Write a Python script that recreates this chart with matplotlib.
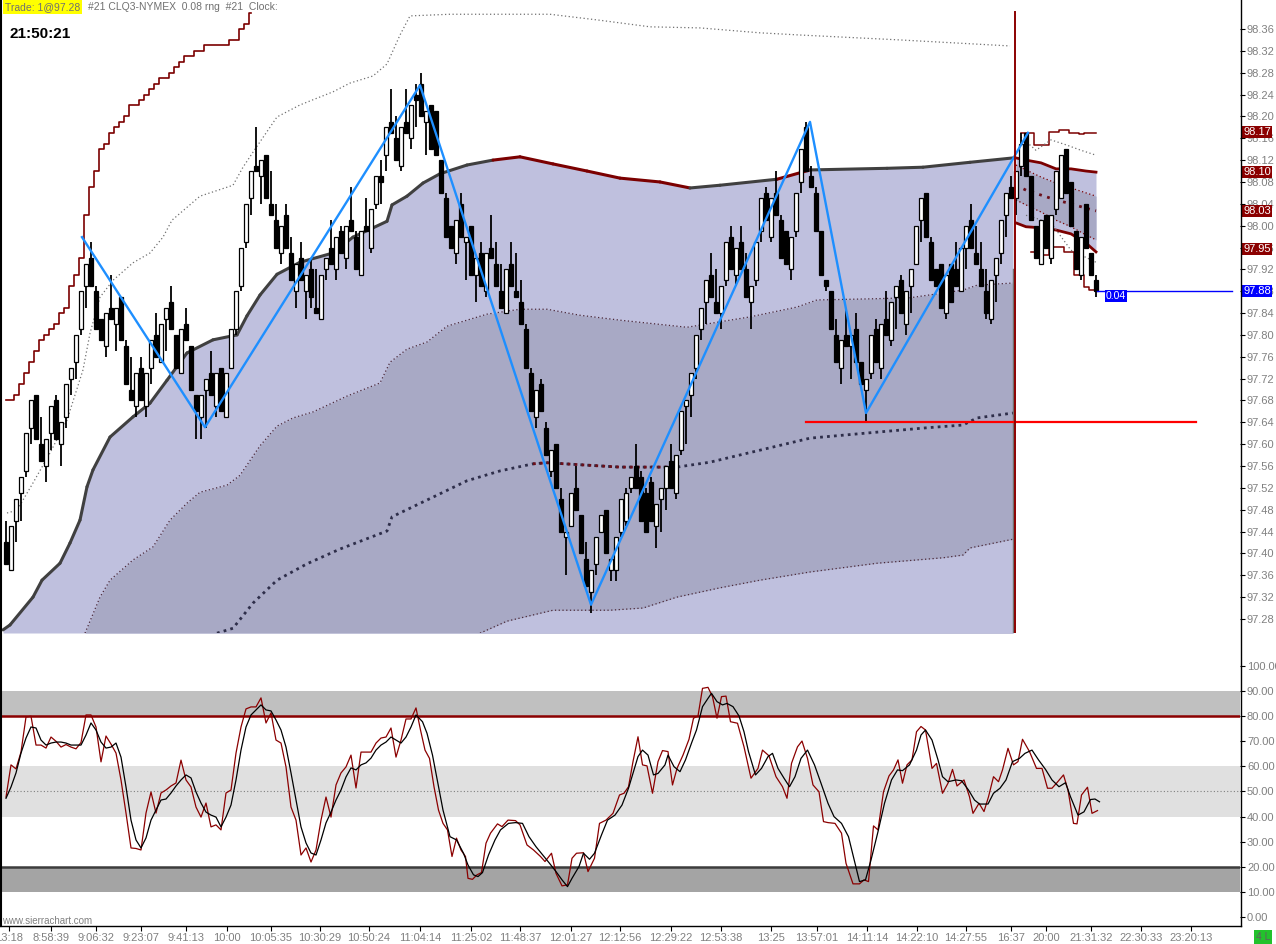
import matplotlib
matplotlib.use("Agg")
import matplotlib.pyplot as plt
import matplotlib.transforms as mtransforms
from matplotlib.lines import Line2D
from matplotlib.collections import LineCollection
import numpy as np

plt.rcParams['font.family'] = ['Liberation Sans', 'DejaVu Sans']

# ---------------- DATA ----------------
OPEN = [97.42, 97.37, 97.46, 97.51, 97.55, 97.63, 97.69, 97.60, 97.56, 97.62,
        97.68, 97.60, 97.65, 97.72, 97.75, 97.81, 97.89, 97.94, 97.88, 97.83,
        97.78, 97.85, 97.82, 97.87, 97.78, 97.70, 97.67, 97.74, 97.67, 97.74,
        97.80, 97.75, 97.83, 97.86, 97.80, 97.73, 97.82, 97.78, 97.69, 97.65,
        97.70, 97.73, 97.67, 97.74, 97.65, 97.74, 97.81, 97.89, 97.97, 98.05,
        98.11, 98.09, 98.13, 98.04, 98.01, 97.95, 98.02, 97.95, 97.88, 97.94,
        97.88, 97.92, 97.85, 97.83, 97.92, 97.96, 97.92, 97.99, 97.94, 98.01,
        97.98, 97.91, 98.00, 97.96, 98.04, 98.09, 98.13, 98.19, 98.16, 98.11,
        98.19, 98.16, 98.24, 98.26, 98.19, 98.22, 98.21, 98.12, 98.05, 98.00,
        97.95, 98.04, 97.97, 98.00, 97.91, 97.95, 97.88, 97.96, 97.93, 97.88,
        97.84, 97.93, 97.88, 97.86, 97.81, 97.73, 97.65, 97.71, 97.63, 97.55,
        97.60, 97.50, 97.43, 97.45, 97.52, 97.47, 97.39, 97.33, 97.38, 97.44,
        97.48, 97.37, 97.37, 97.44, 97.46, 97.52, 97.56, 97.54, 97.51, 97.53,
        97.45, 97.50, 97.52, 97.57, 97.51, 97.59, 97.67, 97.69, 97.74, 97.81,
        97.86, 97.91, 97.86, 97.84, 97.90, 97.98, 97.91, 97.97, 97.92, 97.86,
        97.90, 97.99, 98.06, 97.98, 98.06, 98.01, 97.99, 97.92, 97.99, 98.08,
        98.18, 98.09, 98.06, 97.99, 97.90, 97.88, 97.80, 97.74, 97.80, 97.78,
        97.81, 97.75, 97.70, 97.73, 97.81, 97.74, 97.83, 97.79, 97.87, 97.90,
        97.82, 97.89, 97.93, 98.01, 98.06, 97.97, 97.92, 97.93, 97.84, 97.93,
        97.92, 97.88, 97.96, 98.01, 97.95, 97.92, 97.88, 97.83, 97.91, 97.95,
        98.02, 98.07, 98.05, 98.11, 98.17, 98.09, 98.00, 97.93, 98.02, 97.94,
        98.03, 98.05, 98.14, 98.08, 97.99, 97.91, 98.04, 97.95, 97.90]
HIGH = [97.46, 97.45, 97.50, 97.54, 97.62, 97.68, 97.69, 97.65, 97.61, 97.67,
        97.69, 97.64, 97.71, 97.74, 97.80, 97.88, 97.93, 97.97, 97.89, 97.83,
        97.84, 97.91, 97.85, 97.87, 97.79, 97.76, 97.73, 97.76, 97.73, 97.79,
        97.84, 97.82, 97.85, 97.89, 97.80, 97.81, 97.85, 97.78, 97.69, 97.69,
        97.72, 97.77, 97.73, 97.74, 97.73, 97.81, 97.88, 97.96, 98.04, 98.10,
        98.18, 98.12, 98.13, 98.10, 98.04, 98.00, 98.04, 97.98, 97.93, 97.97,
        97.91, 97.94, 97.92, 97.91, 97.94, 98.01, 97.98, 98.00, 98.00, 98.07,
        97.99, 97.99, 98.05, 98.03, 98.09, 98.12, 98.18, 98.25, 98.20, 98.18,
        98.25, 98.22, 98.26, 98.28, 98.21, 98.22, 98.21, 98.12, 98.06, 98.00,
        98.01, 98.06, 97.98, 98.00, 97.94, 97.97, 97.95, 98.02, 97.97, 97.93,
        97.92, 97.97, 97.95, 97.90, 97.82, 97.74, 97.70, 97.72, 97.64, 97.59,
        97.60, 97.52, 97.44, 97.51, 97.56, 97.47, 97.42, 97.37, 97.43, 97.47,
        97.48, 97.39, 97.43, 97.50, 97.52, 97.54, 97.60, 97.55, 97.52, 97.54,
        97.49, 97.52, 97.56, 97.60, 97.58, 97.66, 97.68, 97.73, 97.80, 97.85,
        97.90, 97.95, 97.92, 97.89, 97.97, 98.00, 97.96, 98.00, 97.95, 97.89,
        97.97, 98.05, 98.07, 98.05, 98.10, 98.02, 97.99, 97.98, 98.06, 98.14,
        98.19, 98.11, 98.07, 97.99, 97.90, 97.88, 97.83, 97.79, 97.85, 97.80,
        97.84, 97.75, 97.72, 97.80, 97.83, 97.82, 97.88, 97.86, 97.89, 97.91,
        97.88, 97.92, 98.00, 98.05, 98.06, 97.98, 97.92, 97.93, 97.91, 97.93,
        97.97, 97.96, 98.00, 98.04, 98.00, 97.97, 97.92, 97.90, 97.94, 98.01,
        98.06, 98.09, 98.10, 98.17, 98.17, 98.09, 98.00, 98.01, 98.02, 98.02,
        98.10, 98.13, 98.14, 98.08, 97.99, 97.98, 98.04, 97.95, 97.91]
LOW = [97.38, 97.37, 97.42, 97.46, 97.54, 97.60, 97.61, 97.57, 97.53, 97.59,
       97.61, 97.56, 97.63, 97.69, 97.72, 97.80, 97.85, 97.89, 97.81, 97.79,
       97.76, 97.83, 97.77, 97.79, 97.71, 97.68, 97.65, 97.68, 97.65, 97.71,
       97.76, 97.75, 97.77, 97.81, 97.74, 97.73, 97.79, 97.70, 97.61, 97.61,
       97.63, 97.69, 97.65, 97.66, 97.65, 97.74, 97.80, 97.88, 97.96, 98.02,
       98.10, 98.04, 98.05, 98.02, 97.96, 97.93, 97.96, 97.90, 97.85, 97.90,
       97.83, 97.85, 97.84, 97.83, 97.90, 97.93, 97.90, 97.95, 97.92, 97.99,
       97.92, 97.91, 97.99, 97.95, 98.03, 98.04, 98.10, 98.17, 98.12, 98.10,
       98.17, 98.14, 98.18, 98.20, 98.13, 98.14, 98.13, 98.06, 97.98, 97.96,
       97.93, 97.98, 97.90, 97.91, 97.86, 97.89, 97.87, 97.94, 97.89, 97.85,
       97.84, 97.89, 97.87, 97.82, 97.74, 97.66, 97.63, 97.66, 97.58, 97.54,
       97.52, 97.44, 97.36, 97.45, 97.48, 97.40, 97.34, 97.29, 97.36, 97.44,
       97.40, 97.35, 97.35, 97.43, 97.45, 97.51, 97.52, 97.46, 97.44, 97.46,
       97.41, 97.44, 97.48, 97.52, 97.50, 97.58, 97.60, 97.65, 97.72, 97.79,
       97.82, 97.87, 97.84, 97.81, 97.89, 97.92, 97.89, 97.92, 97.87, 97.81,
       97.89, 97.97, 98.01, 97.97, 98.02, 97.94, 97.93, 97.90, 97.98, 98.06,
       98.10, 98.07, 97.99, 97.91, 97.88, 97.81, 97.75, 97.71, 97.78, 97.72,
       97.75, 97.71, 97.64, 97.72, 97.75, 97.72, 97.80, 97.78, 97.81, 97.84,
       97.80, 97.84, 97.93, 97.97, 97.98, 97.90, 97.89, 97.85, 97.83, 97.86,
       97.89, 97.88, 97.92, 97.96, 97.93, 97.89, 97.83, 97.82, 97.86, 97.93,
       97.98, 98.05, 98.02, 98.09, 98.09, 98.01, 97.94, 97.93, 97.96, 97.93,
       98.02, 98.05, 98.06, 98.00, 97.92, 97.90, 97.96, 97.91, 97.87]
CLOSE = [97.38, 97.45, 97.50, 97.54, 97.62, 97.68, 97.61, 97.57, 97.61, 97.67,
         97.61, 97.64, 97.71, 97.74, 97.80, 97.88, 97.93, 97.89, 97.81, 97.79,
         97.84, 97.83, 97.85, 97.79, 97.71, 97.68, 97.73, 97.68, 97.73, 97.79,
         97.76, 97.82, 97.85, 97.81, 97.74, 97.81, 97.79, 97.70, 97.66, 97.69,
         97.72, 97.69, 97.73, 97.66, 97.73, 97.81, 97.88, 97.96, 98.04, 98.10,
         98.10, 98.12, 98.05, 98.02, 97.96, 98.00, 97.96, 97.90, 97.93, 97.90,
         97.91, 97.87, 97.84, 97.91, 97.94, 97.93, 97.98, 97.95, 98.00, 97.99,
         97.92, 97.99, 97.99, 98.03, 98.09, 98.08, 98.18, 98.17, 98.12, 98.18,
         98.17, 98.22, 98.23, 98.20, 98.21, 98.14, 98.13, 98.06, 97.98, 97.96,
         98.01, 97.98, 97.98, 97.91, 97.94, 97.89, 97.95, 97.94, 97.89, 97.85,
         97.92, 97.89, 97.87, 97.82, 97.74, 97.66, 97.70, 97.66, 97.58, 97.59,
         97.52, 97.44, 97.44, 97.51, 97.48, 97.40, 97.34, 97.37, 97.43, 97.47,
         97.40, 97.39, 97.43, 97.50, 97.51, 97.54, 97.52, 97.46, 97.44, 97.46,
         97.49, 97.52, 97.56, 97.52, 97.58, 97.66, 97.68, 97.73, 97.80, 97.85,
         97.90, 97.87, 97.84, 97.89, 97.97, 97.92, 97.96, 97.92, 97.87, 97.89,
         97.97, 98.05, 98.01, 98.05, 98.02, 97.94, 97.93, 97.98, 98.06, 98.14,
         98.10, 98.07, 97.99, 97.91, 97.89, 97.81, 97.75, 97.79, 97.78, 97.80,
         97.75, 97.71, 97.72, 97.80, 97.75, 97.82, 97.80, 97.86, 97.89, 97.84,
         97.88, 97.92, 98.00, 98.05, 97.98, 97.90, 97.89, 97.85, 97.91, 97.86,
         97.89, 97.96, 98.00, 97.96, 97.93, 97.89, 97.84, 97.90, 97.94, 98.01,
         98.06, 98.05, 98.10, 98.15, 98.09, 98.01, 97.94, 98.01, 97.96, 98.02,
         98.10, 98.13, 98.06, 98.00, 97.92, 97.98, 97.96, 97.91, 97.88]

# Band lines (bar position, price)
UB_X = [-0.6, 0.8, 5.4, 7.2, 10.8, 12.8, 14.8, 16.2, 17.4, 20.8, 25.4, 28.8, 32.2, 36.2,
        41.4, 46.2, 48.2, 50.8, 54.2, 58.8, 65.4, 69.4, 73.4, 76.2, 77.2, 80.2, 83.4,
        86.8, 92.2, 97.4, 102.8, 109.4, 116.2, 122.8, 130.8, 136.8, 142.8, 154.2,
        160.8, 176.2, 183.4, 192.8, 201.4]
UB_Y = [97.260, 97.269, 97.320, 97.351, 97.382, 97.419, 97.461, 97.522, 97.553, 97.613,
        97.650, 97.675, 97.717, 97.767, 97.791, 97.800, 97.835, 97.873, 97.911, 97.933,
        97.950, 97.979, 97.996, 98.008, 98.038, 98.054, 98.078, 98.095, 98.111, 98.120,
        98.126, 98.113, 98.100, 98.087, 98.080, 98.069, 98.074, 98.085, 98.102, 98.105,
        98.107, 98.116, 98.124]
UB_RED_RANGES = [(100.0, 137.0), (155.0, 161.0)]

IU_X = [15.8, 18.8, 20.8, 25.4, 29.4, 32.8, 36.2, 38.8, 44.2, 46.8, 50.8, 54.2, 57.4,
        61.4, 68.2, 74.8, 76.8, 80.2, 84.2, 88.2, 96.2, 102.8, 108.2, 114.8, 122.8,
        136.2, 142.8, 148.8, 158.2, 162.2, 172.8, 180.8, 191.4, 194.2, 201.4]
IU_Y = [97.254, 97.320, 97.351, 97.388, 97.412, 97.461, 97.492, 97.512, 97.525, 97.543,
        97.597, 97.633, 97.648, 97.659, 97.688, 97.712, 97.750, 97.774, 97.787, 97.816,
        97.838, 97.847, 97.847, 97.836, 97.827, 97.814, 97.824, 97.833, 97.851, 97.864,
        97.866, 97.868, 97.882, 97.891, 97.895]

VWAP_X = [42.2, 45.4, 49.4, 54.2, 60.2, 66.8, 76.2, 77.2, 85.4, 92.2, 98.8, 105.4, 108.2,
          115.4, 122.8, 134.2, 140.8, 150.8, 160.8, 174.2, 184.2, 191.4, 194.2, 201.4]
VWAP_Y = [97.254, 97.263, 97.309, 97.351, 97.381, 97.408, 97.441, 97.467, 97.503, 97.533,
          97.551, 97.564, 97.566, 97.562, 97.558, 97.558, 97.567, 97.589, 97.611, 97.622,
          97.630, 97.635, 97.648, 97.657]
VWAP_RED_RANGE = (105.0, 134.5)

LD_X = [94.8, 100.2, 109.4, 120.8, 127.4, 134.2, 142.8, 150.8, 160.8, 174.2, 187.4,
        191.4, 192.8, 201.4]
LD_Y = [97.254, 97.276, 97.296, 97.296, 97.300, 97.320, 97.337, 97.351, 97.366, 97.382,
        97.392, 97.397, 97.410, 97.426]

ENV_X = [0.2, 2.2, 5.4, 8.8, 12.2, 15.4, 16.8, 18.8, 21.4, 25.4, 28.8, 31.4, 33.2, 38.8,
         45.4, 47.4, 49.8, 54.2, 58.8, 65.4, 68.8, 73.4, 76.2, 78.8, 80.8, 88.8, 108.8,
         118.8, 128.8, 138.8, 150.8, 158.8, 178.8, 200.8]
ENV_Y = [97.474, 97.479, 97.529, 97.584, 97.644, 97.736, 97.803, 97.869, 97.900, 97.932,
         97.950, 97.979, 98.010, 98.054, 98.074, 98.107, 98.140, 98.199, 98.221, 98.245,
         98.261, 98.274, 98.296, 98.349, 98.384, 98.387, 98.387, 98.376, 98.364, 98.362,
         98.353, 98.349, 98.340, 98.329]

STEP_HIGH = [97.68, 97.68, 97.69, 97.71, 97.73, 97.75, 97.77, 97.79, 97.80, 97.81,
             97.82, 97.84, 97.85, 97.89, 97.91, 97.94, 98.02, 98.07, 98.10, 98.14,
             98.15, 98.17, 98.18, 98.19, 98.20, 98.22, 98.22, 98.23, 98.24, 98.25,
             98.26, 98.27, 98.27, 98.28, 98.29, 98.30, 98.31, 98.31, 98.32, 98.32,
             98.33, 98.33, 98.33, 98.33, 98.33, 98.34, 98.34, 98.36, 98.37, 98.39]

# New session (after the vertical line)
POST_X = [202, 204, 207, 210, 213, 216, 218]
POST_UPPER = [98.124, 98.120, 98.115, 98.104, 98.104, 98.100, 98.098]
POST_UPPER_DOT = [98.111, 98.102, 98.089, 98.078, 98.069, 98.060, 98.054]
POST_VWAP = [98.074, 98.065, 98.056, 98.047, 98.040, 98.032, 98.027]
POST_LOWER_DOT = [98.047, 98.038, 98.025, 98.010, 97.998, 97.983, 97.974]
POST_LOWER = [98.005, 97.998, 97.996, 97.992, 97.985, 97.968, 97.952]
POST_TOP_STEP_X = list(range(203, 219))
POST_TOP_STEP = [98.170, 98.170, 98.170, 98.148, 98.148, 98.148, 98.171, 98.171,
                 98.175, 98.175, 98.170, 98.170, 98.168, 98.170, 98.170, 98.170]
POST_BOT_STEP_X = list(range(205, 219))
POST_BOT_STEP = [97.952, 97.952, 97.946, 97.946, 97.961, 97.961, 97.961, 97.952,
                 97.952, 97.910, 97.910, 97.888, 97.882, 97.882]
POST_ENV_UP_X = [203, 206, 209, 212, 215, 218]
POST_ENV_UP = [98.162, 98.138, 98.157, 98.148, 98.138, 98.129]
POST_ENV_LO_X = [204, 209, 213, 218]
POST_ENV_LO = [98.019, 98.005, 97.955, 97.933]

ZZ_X = [15.2, 39.8, 82.8, 117.0, 160.8, 172.0, 204.4]
ZZ_Y = [97.979, 97.631, 98.257, 97.306, 98.190, 97.657, 98.170]

SUPPORT_X = [160.0, 238.0]
SUPPORT_PRICE = 97.641
SESSION_BREAK_X = 201.8
LAST_PRICE = 97.88
LAST_LINE_X = [218.2, 245.2]

PRICE_TICKS = [97.28, 97.32, 97.36, 97.40, 97.44, 97.48, 97.52, 97.56, 97.60, 97.64,
               97.68, 97.72, 97.76, 97.80, 97.84, 97.88, 97.92, 97.96, 98.00, 98.04,
               98.08, 98.12, 98.16, 98.20, 98.24, 98.28, 98.32, 98.36]
PRICE_TICK_LABELS = ["97.28", "97.32", "97.36", "97.40", "97.44", "97.48", "97.52",
                     "97.56", "97.60", "97.64", "97.68", "97.72", "97.76", "97.80",
                     "97.84", "97.88", "97.92", "97.96", "98.00", "98.04", "98.08",
                     "98.12", "98.16", "98.20", "98.24", "98.28", "98.32", "98.36"]
MARKER_VALUES = [98.171, 98.098, 98.027, 97.957, 97.880]
MARKER_TEXTS = ["98.17", "98.10", "98.03", "97.95", "97.88"]
MARKER_COLORS = ["#8B0000", "#8B0000", "#8B0000", "#8B0000", "#0000FF"]

# Stochastic %K (red) and %D (black)
K_X = list(range(83)) + [
    82.9, 83.8, 84.7, 85.6, 86.5, 87.4, 88.3, 89.2, 90.1, 91.0, 91.9, 92.4, 93.3, 94.2,
    95.1, 96.0, 96.9, 98.3, 99.2, 100.4, 101.9, 102.8, 104.2, 105.5, 106.9, 107.8, 109.1,
    110.0, 111.2, 112.3, 113.2, 114.1, 115.5, 116.4, 117.7, 118.7, 120.0, 121.4, 122.7,
    123.6, 124.5, 125.4, 126.4, 127.3, 128.2, 129.3, 130.4, 131.3, 132.4, 133.3, 134.2,
    135.4, 136.6, 137.5, 138.4, 139.3, 140.4, 141.3, 142.2, 143.1, 144.0, 144.9, 146.3,
    147.6, 149.0, 150.4, 151.3, 152.6, 154.0, 155.3, 156.2, 157.1, 158.3, 159.2, 160.3,
    161.4, 162.6, 163.5, 164.4, 165.8, 167.1, 168.0, 169.4, 170.7, 171.6, 172.5, 173.5,
    174.4, 175.5, 176.6, 177.5, 178.4, 179.3, 180.2, 181.2, 182.1, 183.0, 183.9, 185.2,
    186.1, 187.3, 188.4, 189.3, 190.2, 191.6, 192.7, 193.4, 194.6, 195.6, 196.5, 197.5,
    198.5, 199.3, 200.4, 201.5, 202.4, 203.3, 204.7, 206.1, 207.2, 208.3, 209.2, 210.1,
    211.5, 212.4, 213.5, 214.2, 215.1, 216.3, 217.2, 218.3]
K_V = [47.8, 60.6, 59.0, 65.7, 79.7, 80.0, 68.5, 68.5, 67.3, 71.7,
       70.0, 67.7, 68.7, 67.7, 67.0, 69.5, 80.5, 80.5, 75.7, 61.8,
       72.1, 68.9, 65.3, 54.6, 41.4, 27.5, 27.3, 26.7, 41.4, 49.8,
       41.4, 49.4, 50.6, 52.2, 53.4, 62.5, 54.6, 51.8, 43.8, 39.8,
       45.4, 35.9, 36.7, 34.7, 49.4, 50.6, 65.3, 75.7, 82.9, 83.7,
       83.7, 87.3, 77.3, 81.3, 70.5, 69.3, 59.8, 43.8, 38.6, 24.7,
       27.5, 21.9, 26.7, 38.6, 47.8, 39.8, 52.6, 57.4, 59.8, 64.5,
       51.4, 65.7, 65.7, 65.7, 69.3, 71.3, 71.7, 75.3, 63.7, 70.5,
       78.9, 78.9, 83.3,
       74.5, 66.5, 63.2, 51.9, 42.6, 37.3, 34.7, 24.1, 31.4, 26.7, 24.1, 15.4, 15.0, 16.8,
       17.7, 29.4, 33.4, 37.1, 36.0, 38.6, 38.4, 36.7, 28.7, 26.7, 24.1, 22.1, 25.4,
       17.4, 12.4, 12.8, 23.4, 25.4, 25.6, 18.1, 23.4, 37.3, 38.6, 41.3, 48.6,
       49.3, 51.9, 61.9, 71.8, 60.6, 60.2, 49.3, 61.9, 66.3, 65.9, 52.6, 59.2,
       64.5, 70.8, 79.2, 80.1, 91.1, 91.5, 87.8, 79.2, 87.8, 88.0, 77.8, 77.2,
       67.8, 55.3, 59.2, 66.5, 64.2, 55.9, 51.9, 47.3, 61.2, 67.8, 70.1, 63.2,
       52.6, 49.9, 38.0, 37.6, 37.3, 33.4, 21.4, 13.2, 13.2, 14.8, 14.1, 36.3,
       34.7, 49.9, 56.2, 58.6, 62.6, 53.3, 60.6, 62.6, 73.8, 75.9, 74.5, 59.2,
       61.2, 49.3, 53.3, 58.8, 52.2, 54.6, 47.9, 41.3, 45.3, 42.0, 47.9, 55.9,
       53.9, 58.6, 67.2, 60.6, 61.9, 70.8, 65.9, 59.2, 59.2, 51.3, 51.3, 53.3,
       56.6, 50.6, 37.3, 37.1, 48.6, 51.7, 41.3, 42.4]
D_X = list(range(83)) + [
    83.3, 84.2, 85.3, 86.5, 87.4, 88.8, 90.1, 91.5, 92.4, 93.5, 94.4, 95.3, 96.5, 97.8,
    98.9, 100.5, 101.9, 103.3, 104.6, 106.0, 107.6, 108.7, 110.0, 111.2, 112.3, 113.2,
    114.6, 115.5, 116.7, 117.7, 119.1, 120.3, 121.8, 123.2, 124.5, 125.4, 126.4, 127.3,
    128.4, 129.5, 130.4, 131.8, 132.4, 133.6, 134.8, 135.9, 137.2, 138.1, 139.3, 140.4,
    141.1, 142.2, 143.3, 144.2, 145.4, 146.6, 147.6, 148.5, 149.9, 151.1, 152.4, 153.3,
    154.4, 155.6, 156.7, 157.8, 159.0, 160.3, 161.7, 163.0, 164.4, 165.6, 167.1, 168.5,
    169.8, 170.7, 171.9, 173.0, 174.4, 175.7, 177.1, 178.3, 179.3, 180.7, 182.1, 183.0,
    183.9, 185.2, 186.4, 187.3, 188.4, 190.0, 191.1, 192.5, 193.7, 194.7, 196.4, 197.5,
    198.8, 200.0, 201.3, 202.7, 203.8, 205.2, 206.5, 207.9, 209.2, 210.6, 211.9, 212.9,
    214.4, 215.6, 216.9, 217.8, 218.7]
D_V = [47.3, 51.8, 57.4, 65.3, 71.3, 75.7, 75.3, 70.5, 68.5, 69.3,
       69.7, 69.7, 69.3, 68.5, 68.5, 68.5, 72.5, 77.3, 74.5, 69.7,
       67.3, 67.7, 69.3, 63.7, 51.8, 38.6, 30.7, 27.5, 31.5, 38.6,
       42.6, 46.6, 47.0, 49.4, 52.2, 54.6, 56.6, 55.4, 49.8, 45.4,
       41.8, 40.6, 39.8, 35.9, 39.8, 44.6, 54.6, 66.5, 75.7, 80.5,
       82.5, 84.5, 82.5, 82.1, 78.5, 74.5, 67.7, 57.4, 46.6, 35.9,
       29.5, 25.5, 24.7, 30.7, 37.5, 41.8, 46.6, 50.6, 55.8, 59.4,
       58.6, 60.6, 61.4, 63.3, 66.5, 68.5, 69.7, 71.7, 70.5, 69.3,
       71.7, 75.7, 80.5,
       77.8, 73.2, 64.5, 51.9, 42.6, 32.0, 30.7, 25.4, 20.7, 16.8, 16.1, 17.7, 24.7, 30.7,
       34.7, 37.3, 37.6, 37.3, 32.0, 28.0, 24.1, 21.4, 18.1, 14.8, 12.1, 15.4,
       20.1, 25.4, 23.0, 25.4, 32.7, 38.6, 40.6, 44.6, 51.3, 57.2, 63.9, 66.5,
       64.5, 56.6, 57.2, 60.6, 64.5, 59.9, 57.9, 62.6, 69.8, 74.5, 83.8, 87.1,
       89.1, 85.8, 84.5, 85.1, 83.8, 80.1, 73.8, 65.9, 56.6, 59.2, 63.9, 65.2,
       59.2, 55.3, 51.9, 55.9, 63.2, 66.5, 60.6, 53.3, 45.3, 40.0, 37.3, 32.0,
       21.4, 14.1, 14.8, 22.7, 34.0, 45.3, 54.6, 58.6, 58.3, 60.6, 66.5, 72.5,
       74.5, 70.5, 62.6, 55.9, 53.9, 54.6, 54.3, 50.6, 46.6, 45.0, 45.0, 49.3,
       51.3, 54.6, 61.9, 63.2, 65.2, 66.5, 62.6, 58.8, 54.6, 51.9, 53.5, 47.9,
       40.6, 41.9, 46.8, 47.0, 45.9]

PCT_TICKS = [100, 90, 80, 70, 60, 50, 40, 30, 20, 10, 0]
PCT_LABELS = ["100.00", "90.00", "80.00", "70.00", "60.00", "50.00", "40.00",
              "30.00", "20.00", "10.00", "0.00"]

TIME_BARS = [0.6, 9, 18, 27, 36, 44.2, 53, 62.8, 72.6, 82.8, 93, 102.8, 113, 122.8,
             133, 143, 153, 162.2, 172.2, 182.2, 192, 201, 208, 217, 227, 237]
TIME_LABELS = ["13:18", "8:58:39", "9:06:32", "9:23:07", "9:41:13", "10:00", "10:05:35",
               "10:30:29", "10:50:24", "11:04:14", "11:25:02", "11:48:37", "12:01:27",
               "12:12:56", "12:29:22", "12:53:38", "13:25", "13:57:01", "14:11:14",
               "14:22:10", "14:27:55", "16:37", "20:00", "21:31:32", "22:30:33",
               "23:20:13"]

# ---------------- FIGURE ----------------
W, H = 1276, 944
fig = plt.figure(figsize=(W / 100, H / 100), dpi=100)
fig.patch.set_facecolor('white')


def fx(px):
    return px / W


def fy(py):
    return 1 - py / H


XLIM = (-1.2, 246.8)
YMIN, YMAX = 97.2543, 98.4131
GREY_TXT = '#808080'
LIGHT = '#BFC0DE'
DARK = '#A8A9C5'
DRED = '#7B0000'

ax = fig.add_axes([0, fy(633), 1240 / W, 633 / H])
ax.set_xlim(*XLIM)
ax.set_ylim(YMIN, YMAX)
ax.set_facecolor('none')
for s in ax.spines.values():
    s.set_visible(False)

# fills
ax.fill_between(UB_X, UB_Y, YMIN, color=LIGHT, lw=0, zorder=1)
ax.fill_between(IU_X, IU_Y, YMIN, color=DARK, lw=0, zorder=1.1)
ax.fill_between(LD_X, LD_Y, YMIN, color=LIGHT, lw=0, zorder=1.2)

# upper band line with colour segments
pts = np.column_stack([UB_X, UB_Y])
segs = np.stack([pts[:-1], pts[1:]], axis=1)
cols = []
for a, b in zip(UB_X[:-1], UB_X[1:]):
    m = 0.5 * (a + b)
    red = any(lo <= m <= hi for lo, hi in UB_RED_RANGES)
    cols.append(DRED if red else '#404040')
ax.add_collection(LineCollection(segs, colors=cols, linewidths=2.2, zorder=2,
                                 capstyle='round'))

ax.plot(IU_X, IU_Y, color='#4A2838', lw=0.9, ls=(0, (1, 2)), zorder=2)
ax.plot(LD_X, LD_Y, color='#4A2838', lw=0.9, ls=(0, (1, 2)), zorder=2)
ax.plot(ENV_X, ENV_Y, color='#707070', lw=0.9, ls=(0, (1, 2)), zorder=2)

vx = np.array(VWAP_X)
vy = np.array(VWAP_Y)
ax.plot(vx, vy, color='#2E2E4A', lw=2.0, ls=(0, (1, 1.5)), zorder=2)
mask = (vx >= VWAP_RED_RANGE[0]) & (vx <= VWAP_RED_RANGE[1])
ax.plot(vx[mask], vy[mask], color='#6B0F1A', lw=2.0, ls=(0, (1, 1.5)), zorder=2.1)

ax.plot(range(len(STEP_HIGH)), STEP_HIGH, color=DRED, lw=1.2, drawstyle='steps-mid', zorder=2)

# new-session bands
ax.fill_between(POST_X, POST_UPPER, POST_LOWER, color=LIGHT, lw=0, zorder=1)
ax.fill_between(POST_X, POST_UPPER_DOT, POST_LOWER_DOT, color=DARK, lw=0, zorder=1.1)
ax.plot(POST_X, POST_UPPER, color=DRED, lw=2.0, zorder=2)
ax.plot(POST_X, POST_LOWER, color=DRED, lw=2.0, zorder=2)
ax.plot(POST_X, POST_UPPER_DOT, color=DRED, lw=0.9, ls=(0, (1, 2)), zorder=2)
ax.plot(POST_X, POST_LOWER_DOT, color=DRED, lw=0.9, ls=(0, (1, 2)), zorder=2)
ax.plot(POST_X, POST_VWAP, color='#6B0F1A', lw=2.0, ls=(0, (1, 2)), zorder=2)
ax.plot(POST_TOP_STEP_X, POST_TOP_STEP, color=DRED, lw=1.1, drawstyle='steps-mid', zorder=2)
ax.plot(POST_BOT_STEP_X, POST_BOT_STEP, color=DRED, lw=1.1, drawstyle='steps-mid', zorder=2)
ax.plot(POST_ENV_UP_X, POST_ENV_UP, color='#707070', lw=0.9, ls=(0, (1, 2)), zorder=2)
ax.plot(POST_ENV_LO_X, POST_ENV_LO, color='#707070', lw=0.9, ls=(0, (1, 2)), zorder=2)

# candles
o = np.array(OPEN)
h = np.array(HIGH)
l = np.array(LOW)
c = np.array(CLOSE)
idx = np.arange(len(c))
ax.vlines(idx, l, h, color='black', lw=1.3, zorder=3)
bottom = np.minimum(o, c)
height = np.maximum(np.abs(c - o), 0.002)
face = np.where(c >= o, 'white', 'black')
ax.bar(idx, height, bottom=bottom, width=0.72, color=face, edgecolor='black',
       linewidth=0.9, zorder=4)

# zigzag, support, session break, last price
ax.plot(ZZ_X, ZZ_Y, color='#1E8FFF', lw=1.7, zorder=6)
ax.plot(SUPPORT_X, [SUPPORT_PRICE, SUPPORT_PRICE], color='#FF0000', lw=1.6, zorder=6)
ax.plot([SESSION_BREAK_X - 0.35] * 2, [YMIN, 97.92], color='#707070', lw=1.0, zorder=5)
ax.plot([SESSION_BREAK_X] * 2, [YMIN, 98.391], color='#8B0000', lw=1.4, zorder=6)
ax.plot(LAST_LINE_X, [LAST_PRICE, LAST_PRICE], color='#0000FF', lw=1.0, zorder=6)
ax.text(220.0, 97.871, "0.04", color='white', fontsize=7.5, va='center', ha='left',
        zorder=7, bbox=dict(facecolor='#0000FF', edgecolor='none', pad=0.6))

# right price axis
ax.yaxis.tick_right()
ax.set_yticks(PRICE_TICKS)
ax.set_yticklabels(PRICE_TICK_LABELS)
ax.tick_params(axis='y', direction='out', length=3.5, width=0.8, color='black',
               labelcolor=GREY_TXT, labelsize=8, pad=1.5)
ax.set_xticks([])

trans = mtransforms.blended_transform_factory(ax.transAxes, ax.transData)
for val, txt, col in zip(MARKER_VALUES, MARKER_TEXTS, MARKER_COLORS):
    ax.text(1243 / 1240, val, txt, transform=trans, color='white', fontsize=8,
            va='center', ha='left', zorder=10, clip_on=False,
            bbox=dict(facecolor=col, edgecolor='none', pad=0.8))

# ---------------- LOWER PANEL ----------------
ax2 = fig.add_axes([0, fy(926), 1240 / W, (926 - 640) / H])
ax2.set_xlim(*XLIM)
ax2.set_ylim(-3.59, 110.36)
ax2.set_facecolor('none')
for s in ax2.spines.values():
    s.set_visible(False)
ax2.axhspan(80, 90, color='#C0C0C0', lw=0, zorder=1)
ax2.axhspan(40, 60, color='#E0E0E0', lw=0, zorder=1)
ax2.axhspan(10, 20, color='#A4A4A4', lw=0, zorder=1)
ax2.axhline(80, color='#8B0000', lw=1.8, zorder=2)
ax2.axhline(20, color='#3C3C3C', lw=1.8, zorder=2)
ax2.axhline(50, color='#808080', lw=0.8, ls=(0, (1, 2)), zorder=2)
ax2.plot(K_X, K_V, color='#8B0000', lw=0.9, zorder=3)
ax2.plot(D_X, D_V, color='black', lw=0.9, zorder=4)

ax2.yaxis.tick_right()
ax2.set_yticks(PCT_TICKS)
ax2.set_yticklabels(PCT_LABELS)
ax2.tick_params(axis='y', direction='out', length=3.5, width=0.8, color='black',
                labelcolor=GREY_TXT, labelsize=8, pad=1.5)
ax2.set_xticks(TIME_BARS)
ax2.set_xticklabels(TIME_LABELS)
ax2.tick_params(axis='x', direction='out', length=3.5, width=0.8, color='black',
                labelcolor=GREY_TXT, labelsize=8, pad=1.5)

# frame lines
fig.add_artist(Line2D([fx(1240.5)] * 2, [fy(0), fy(926)], color='black', lw=1.0))
fig.add_artist(Line2D([fx(0), fx(1240.5)], [fy(926)] * 2, color='black', lw=1.0))
fig.add_artist(Line2D([fx(0.8)] * 2, [fy(0), fy(926)], color='black', lw=1.5))

# header texts
fig.text(fx(5), fy(7), "Trade: 1@97.28", fontsize=7.5, color='#707070', va='center',
         ha='left', bbox=dict(facecolor='#FFFF00', edgecolor='none', pad=1.2))
fig.text(fx(88), fy(7), "#21 CLQ3-NYMEX  0.08 rng  #21  Clock:", fontsize=7.5,
         color='#707070', va='center', ha='left')
fig.text(fx(10), fy(34), "21:50:21", fontsize=11, fontweight='bold', color='black',
         va='center', ha='left')
fig.text(fx(2), fy(921), "www.sierrachart.com", fontsize=7, color='#808080',
         va='center', ha='left')
fig.text(fx(1256), fy(937), "4 L", fontsize=7.5, color='#606060', va='center',
         ha='left', bbox=dict(facecolor='#22C22C', edgecolor='none', pad=1.5))

fig.savefig("out.png", dpi=100, facecolor='white')
